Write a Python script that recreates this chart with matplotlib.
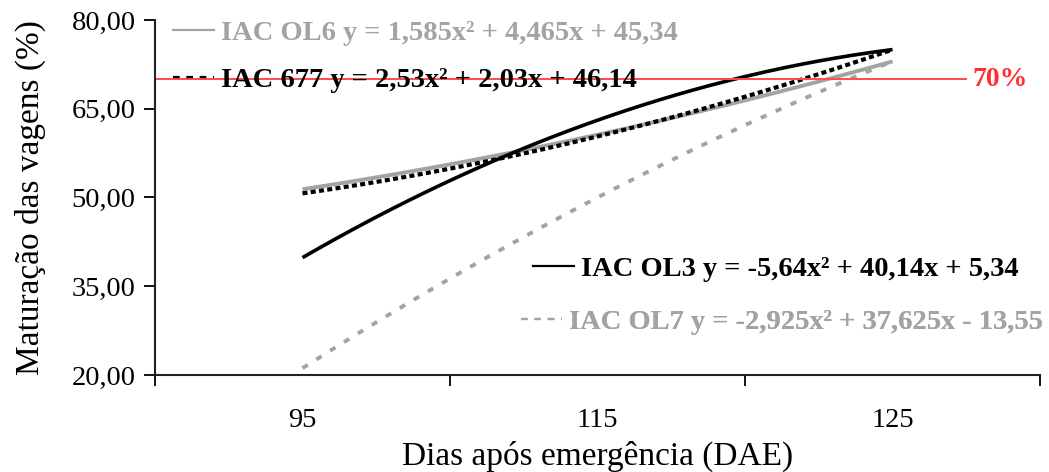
import numpy as np
import matplotlib.pyplot as plt
from matplotlib.lines import Line2D
from matplotlib.ticker import FuncFormatter

plt.rcParams["font.family"] = ["Liberation Serif", "DejaVu Serif"]

# Dias após emergência (categorias do eixo x)
dias = ["95", "115", "125"]

# Coeficientes das curvas de tendência (a*x^2 + b*x + c), x = 1, 2, 3
nomes = ["IAC OL6", "IAC 677", "IAC OL3", "IAC OL7"]
coef_a = [1.585, 2.53, -5.64, -2.925]
coef_b = [4.465, 2.03, 40.14, 37.625]
coef_c = [45.34, 46.14, 5.34, -13.55]

limite = 70


def num(v):
    return f"{abs(v):g}".replace(".", ",")


def equacao(a, b, c):
    s = ("-" if a < 0 else "") + num(a) + "x²"
    s += (" - " if b < 0 else " + ") + num(b) + "x"
    s += (" - " if c < 0 else " + ") + num(c)
    return "y = " + s


cinza = "#a3a3a3"
cores = [cinza, "black", "black", cinza]
estilos = ["-", (0, (1.2, 0.8)), "-", (0, (1.6, 2.6))]
larguras = [2.8, 3.0, 2.6, 2.8]

fig = plt.figure(figsize=(10.49, 4.72), dpi=100)
ax = fig.add_axes([155 / 1049, 1 - 375 / 472, 885 / 1049, 355 / 472])

x = np.linspace(1, len(dias), 200)
for a, b, c, cor, ls, lw in zip(coef_a, coef_b, coef_c, cores, estilos, larguras):
    ax.plot(x, a * x ** 2 + b * x + c, color=cor, linestyle=ls, linewidth=lw,
            solid_capstyle="butt", dash_capstyle="butt")

# Linha de referência
ax.plot([0.5, 3.25], [limite, limite], color="#ff4a4a", linewidth=1.4)
ax.text(3.27, limite, f"{limite}%", color="#ff3030", fontsize=20,
        fontweight="bold", va="center", ha="left")

# Legendas separadas para cada equação
posicoes = [(173, 33), (173, 80), (533, 269), (521, 322)]
estilos_leg = ["-", (0, (3, 3)), "-", (0, (3, 3))]
for nome, a, b, c, cor, ls, (px, py) in zip(nomes, coef_a, coef_b, coef_c,
                                             cores, estilos_leg, posicoes):
    h = Line2D([], [], color=cor, linestyle=ls, linewidth=1.6)
    leg = ax.legend([h], [nome + " " + equacao(a, b, c)], loc="center left",
                    bbox_to_anchor=(px / 1049, 1 - py / 472),
                    bbox_transform=fig.transFigure, frameon=False,
                    borderpad=0, borderaxespad=0, handlelength=1.45,
                    handletextpad=0.25,
                    prop={"size": 20.5, "weight": "bold"})
    leg.get_texts()[0].set_color(cor)
    ax.add_artist(leg)

# Eixos
ax.set_xlim(0.5, len(dias) + 0.5)
ax.set_ylim(20, 80)
ax.set_yticks([20, 35, 50, 65, 80])
ax.yaxis.set_major_formatter(FuncFormatter(lambda v, p: f"{v:.2f}".replace(".", ",")))
ax.set_xticks(range(1, len(dias) + 1))
ax.set_xticklabels(dias)
ax.set_xticks(np.arange(0.5, len(dias) + 1), minor=True)
ax.tick_params(axis="x", which="major", length=0, pad=24, labelsize=20.5)
ax.tick_params(axis="x", which="minor", length=8, width=1.3)
ax.tick_params(axis="y", length=8, width=1.3, labelsize=20.5, pad=6)

for lado in ["top", "right"]:
    ax.spines[lado].set_visible(False)
for lado in ["left", "bottom"]:
    ax.spines[lado].set_linewidth(1.5)
    ax.spines[lado].set_color("#222222")

ax.set_xlabel("Dias após emergência (DAE)", fontsize=24, labelpad=5)
ax.set_ylabel("Maturação das vagens (%)", fontsize=24, labelpad=18)

fig.savefig("out.png", dpi=100)
